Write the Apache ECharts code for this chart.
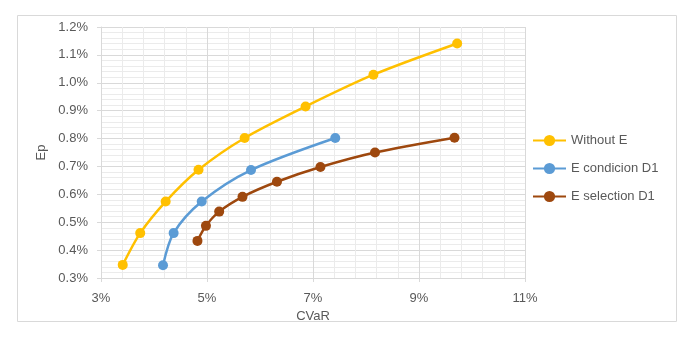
<!DOCTYPE html>
<html>
<head>
<meta charset="utf-8">
<script src="https://cdn.jsdelivr.net/npm/echarts@6/dist/echarts.min.js"></script>
<style>
  html, body { margin: 0; padding: 0; background: #fff; }
  #chart { width: 696px; height: 337px; }
</style>
</head>
<body>
<div id="chart"></div>
<script>
  // CVaR (%) / Ep (%) pairs
  var withoutE_x = [3.41, 3.74, 4.22, 4.84, 5.71, 6.86, 8.14, 9.72];
  var withoutE_y = [0.347, 0.461, 0.574, 0.688, 0.802, 0.915, 1.029, 1.141];

  var condicion_x = [4.17, 4.37, 4.90, 5.83, 7.42];
  var condicion_y = [0.346, 0.461, 0.574, 0.687, 0.802];

  var selection_x = [4.82, 4.98, 5.23, 5.67, 6.32, 7.14, 8.17, 9.67];
  var selection_y = [0.433, 0.487, 0.538, 0.591, 0.645, 0.698, 0.750, 0.803];

  var seriesNames = ['Without E', 'E condicion D1', 'E selection D1'];
  var seriesColors = ['#ffc000', '#5b9bd5', '#9e480e'];

  var xTicks = { min: 3, max: 11, step: 2 };
  var yTicks = { min: 0.3, max: 1.2, step: 0.1 };

  function pairs(xs, ys) {
    var out = [];
    for (var i = 0; i < xs.length; i++) {
      out.push([xs[i], ys[i]]);
    }
    return out;
  }

  var txt = '#595959';
  var font = 'Liberation Sans';
  var chart = echarts.init(document.getElementById('chart'));

  var allData = [
    pairs(withoutE_x, withoutE_y),
    pairs(condicion_x, condicion_y),
    pairs(selection_x, selection_y)
  ];

  var series = [];
  for (var s = 0; s < seriesNames.length; s++) {
    series.push({
      name: seriesNames[s],
      type: 'line',
      data: allData[s],
      smooth: 0.3,
      symbol: 'circle',
      symbolSize: 10,
      lineStyle: { width: 2.5, color: seriesColors[s] },
      itemStyle: { color: seriesColors[s] }
    });
  }

  var option = {
    animation: false,
    graphic: [{
      type: 'rect',
      shape: { x: 17.5, y: 15.5, width: 659, height: 306 },
      style: { fill: 'none', stroke: '#d9d9d9', lineWidth: 1 },
      silent: true
    }],
    grid: { left: 101, right: 171, top: 27, bottom: 59 },
    legend: {
      orient: 'vertical',
      left: 527,
      top: 129,
      itemWidth: 33,
      itemHeight: 14,
      itemGap: 15,
      data: seriesNames,
      textStyle: { color: txt, fontSize: 13, fontFamily: font }
    },
    xAxis: {
      type: 'value',
      min: xTicks.min,
      max: xTicks.max,
      interval: xTicks.step,
      name: 'CVaR',
      nameLocation: 'middle',
      nameGap: 18,
      nameTextStyle: { color: txt, fontSize: 13, fontFamily: font },
      axisLine: { show: true, lineStyle: { color: '#d9d9d9' } },
      axisTick: { show: true, length: 4, lineStyle: { color: '#d9d9d9' } },
      axisLabel: {
        color: txt, fontSize: 13, fontFamily: font, margin: 14,
        formatter: function (v) { return Math.round(v) + '%'; }
      },
      splitLine: { show: true, lineStyle: { color: '#d9d9d9' } },
      minorTick: { show: false, splitNumber: 5 },
      minorSplitLine: { show: true, lineStyle: { color: '#ebebeb' } }
    },
    yAxis: {
      type: 'value',
      min: yTicks.min,
      max: yTicks.max,
      interval: yTicks.step,
      name: 'Ep',
      nameLocation: 'middle',
      nameRotate: 90,
      nameGap: 50,
      nameTextStyle: { color: txt, fontSize: 13, fontFamily: font },
      axisLine: { show: true, lineStyle: { color: '#d9d9d9' } },
      axisTick: { show: true, length: 4, lineStyle: { color: '#d9d9d9' } },
      axisLabel: {
        color: txt, fontSize: 13, fontFamily: font, margin: 13,
        formatter: function (v) { return v.toFixed(1) + '%'; }
      },
      splitLine: { show: true, lineStyle: { color: '#d9d9d9' } },
      minorTick: { show: false, splitNumber: 5 },
      minorSplitLine: { show: true, lineStyle: { color: '#ebebeb' } }
    },
    series: series
  };

  chart.setOption(option);
</script>
</body>
</html>
